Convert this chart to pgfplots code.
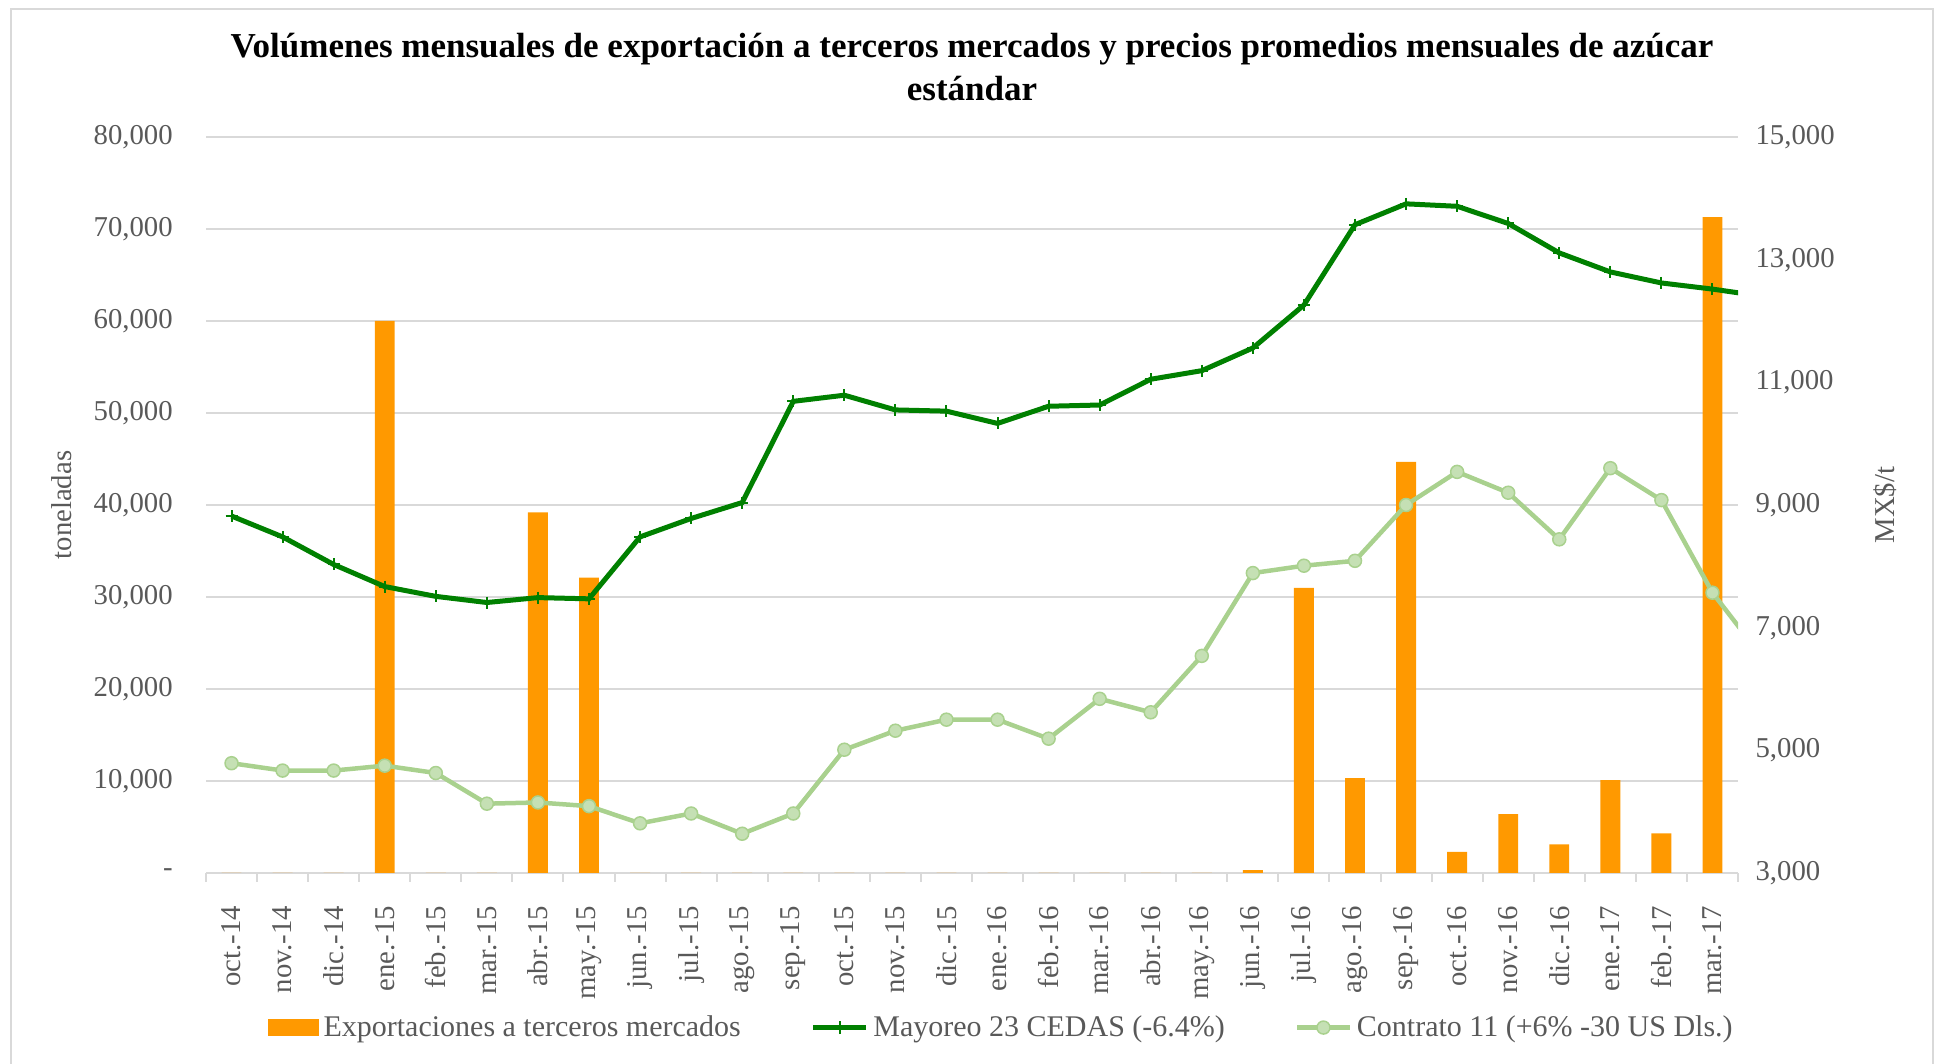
\documentclass[border=0pt]{standalone}
\usepackage{pgfplots}
\pgfplotsset{compat=1.18}
\usepackage{fontspec}
\setmainfont{Liberation Serif}
\definecolor{barorange}{HTML}{FF9900}
\definecolor{dkgreen}{HTML}{008000}
\definecolor{ltgreen}{HTML}{A9D18E}
\definecolor{ltgreenfill}{HTML}{C5E0B4}
\definecolor{gridgray}{HTML}{D9D9D9}
\definecolor{txtgray}{HTML}{595959}
\begin{document}
\begin{tikzpicture}
\path[use as bounding box] (0pt,0pt) rectangle (774.4pt,425.6pt);
\draw[gridgray,line width=0.8pt] (4.4pt,-10pt) rectangle (773.2pt,422.0pt);
\node[font=\bfseries\fontsize{14}{17}\selectfont,align=center,anchor=center] at (388.8pt,398.8pt)
  {Volúmenes mensuales de exportación a terceros mercados y precios promedios mensuales de azúcar\\estándar};
\node[rotate=90,font=\fontsize{11.5}{13}\selectfont,text=txtgray] at (24.7pt,223.6pt) {toneladas};
\node[rotate=90,font=\fontsize{11.5}{13}\selectfont,text=txtgray] at (754pt,223.6pt) {MX\$/t};
\begin{axis}[
  at={(82.4pt,76.4pt)}, anchor=south west,
  scale only axis, width=612.8pt, height=294.4pt,
  xmin=-0.5, xmax=29.5, ymin=0, ymax=80000,
  axis y line*=left, axis x line*=bottom,
  axis line style={gridgray, line width=0.8pt},
  y axis line style={draw=none},
  ymajorgrids, grid style={gridgray, line width=0.8pt},
  scaled y ticks=false,
  ytick={0,10000,...,80000},
  yticklabels={{-},{10,000},{20,000},{30,000},{40,000},{50,000},{60,000},{70,000},{80,000}},
  yticklabel style={font=\fontsize{11.5}{13}\selectfont, text=txtgray, xshift=-5.5pt},
  ytick style={draw=none},
  xtick={0,...,29},
  xticklabels={oct.-14,nov.-14,dic.-14,ene.-15,feb.-15,mar.-15,abr.-15,may.-15,jun.-15,jul.-15,ago.-15,sep.-15,oct.-15,nov.-15,dic.-15,ene.-16,feb.-16,mar.-16,abr.-16,may.-16,jun.-16,jul.-16,ago.-16,sep.-16,oct.-16,nov.-16,dic.-16,ene.-17,feb.-17,mar.-17},
  xticklabel style={rotate=90, anchor=east, font=\fontsize{11.5}{13}\selectfont, text=txtgray, xshift=-5.5pt},
  major x tick style={draw=none},
  minor xtick={-0.5,0.5,...,29.5},
  minor x tick style={gridgray, line width=0.8pt},
  minor tick length=3.5pt,
  tick align=outside,
  clip=true,
]
\addplot[ybar, bar width=0.39, fill=barorange, draw=none, bar shift=0pt] coordinates {
(0,0)(1,0)(2,0)(3,60000)(4,0)(5,0)(6,39200)(7,32100)(8,0)(9,0)(10,0)(11,0)(12,0)(13,0)(14,0)
(15,0)(16,0)(17,0)(18,0)(19,0)(20,300)(21,31000)(22,10300)(23,44700)(24,2300)(25,6400)(26,3100)
(27,10100)(28,4300)(29,71300)};
\end{axis}
\begin{axis}[
  at={(82.4pt,76.4pt)}, anchor=south west,
  scale only axis, width=612.8pt, height=294.4pt,
  xmin=-0.5, xmax=29.5, ymin=3000, ymax=15000,
  axis y line*=right, axis x line=none,
  y axis line style={draw=none},
  scaled y ticks=false,
  ytick={3000,5000,...,15000},
  yticklabels={{3,000},{5,000},{7,000},{9,000},{11,000},{13,000},{15,000}},
  yticklabel style={font=\fontsize{11.5}{13}\selectfont, text=txtgray, xshift=3.5pt},
  ytick style={draw=none},
  clip=true,
  legend columns=3,
  legend style={at={(0.52,-0.21)}, anchor=center, draw=none, fill=none,
    font=\fontsize{12}{14}\selectfont, text=txtgray,
    /tikz/every even column/.append style={column sep=26pt}},
  legend cell align=left,
]
\addlegendimage{legend image code/.code={\fill[barorange] (0pt,-3.2pt) rectangle (20pt,3.2pt);}}
\addlegendentry{Exportaciones a terceros mercados}
\addplot[dkgreen, line width=2pt, mark=+, mark size=2.4pt, mark options={line width=0.8pt},
  legend image code/.code={\draw[dkgreen,line width=2pt] (0pt,0pt) -- (21pt,0pt); \draw[dkgreen,line width=0.8pt] (10.5pt,-2.6pt)--(10.5pt,2.6pt);}] coordinates {
(0,8820)(1,8480)(2,8030)(3,7670)(4,7510)(5,7410)(6,7490)(7,7470)(8,8480)(9,8780)(10,9040)
(11,10690)(12,10790)(13,10550)(14,10530)(15,10330)(16,10610)(17,10630)(18,11050)(19,11190)
(20,11560)(21,12260)(22,13570)(23,13910)(24,13870)(25,13590)(26,13110)(27,12800)(28,12620)
(29,12520)(30,12400)};
\addlegendentry{Mayoreo 23 CEDAS (-6.4\%)}
\addplot[ltgreen, line width=1.8pt, mark=*, mark size=2.6pt, mark options={fill=ltgreenfill, draw=ltgreen, line width=0.6pt},
  legend image code/.code={\draw[ltgreen,line width=1.8pt] (0pt,0pt) -- (21pt,0pt); \draw[ltgreen,fill=ltgreenfill,line width=0.6pt] (10.5pt,0pt) circle (2.6pt);}] coordinates {
(0,4790)(1,4670)(2,4670)(3,4750)(4,4630)(5,4130)(6,4150)(7,4090)(8,3810)(9,3970)(10,3640)
(11,3970)(12,5010)(13,5320)(14,5500)(15,5500)(16,5190)(17,5840)(18,5620)(19,6540)(20,7890)
(21,8010)(22,8090)(23,9000)(24,9540)(25,9200)(26,8440)(27,9600)(28,9080)(29,7570)(30,6490)};
\addlegendentry{Contrato 11 (+6\% -30 US Dls.)}
\end{axis}
\end{tikzpicture}
\end{document}
